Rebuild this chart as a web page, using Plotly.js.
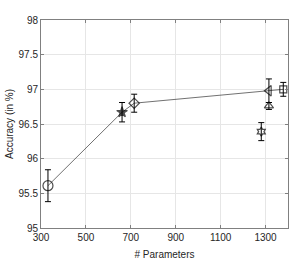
<!DOCTYPE html>
<html><head><meta charset="utf-8">
<script src="https://cdn.plot.ly/plotly-3.0.1.min.js"></script>
<style>body{margin:0;background:#fff}#c{width:299px;height:260px}</style>
</head><body><div id="c"></div>
<script>
// connected series
const lineX = [331, 661, 715, 1315, 1379];
const lineY = [95.61, 96.67, 96.80, 96.98, 97.00];
const lineErr = [0.23, 0.14, 0.13, 0.17, 0.10];
const lineSymbols = ['circle-open', 'star', 'diamond-open', 'triangle-left-open', 'square-open'];
const lineSizes = [10, 8, 8, 9, 7];
// standalone points
const soloX = [1315, 1281];
const soloY = [96.76, 96.39];
const soloErr = [0.05, 0.13];
const soloSymbols = ['triangle-up-open', 'hexagram-open'];
const soloSizes = [8, 7];
const xTicks = [300, 500, 700, 900, 1100, 1300];
const yTicks = [95, 95.5, 96, 96.5, 97, 97.5, 98];

const errStyle = {type: 'data', visible: true, color: '#000', thickness: 1, width: 3};
const traces = [
  {x: lineX, y: lineY, mode: 'lines', line: {color: '#333', width: 0.7}, hoverinfo: 'skip'},
  {x: lineX, y: lineY, mode: 'markers',
   error_y: Object.assign({array: lineErr}, errStyle),
   marker: {symbol: lineSymbols, size: lineSizes, color: '#000', line: {color: '#000', width: 1.2}}},
  {x: soloX, y: soloY, mode: 'markers',
   error_y: Object.assign({array: soloErr}, errStyle),
   marker: {symbol: soloSymbols, size: soloSizes, color: '#000', line: {color: '#000', width: 1.2}}}
];
const axFont = {family: 'Liberation Sans, Arial, sans-serif', size: 10, color: '#262626'};
const layout = {
  width: 299, height: 260, showlegend: false,
  margin: {l: 41, r: 11, t: 20, b: 32},
  paper_bgcolor: '#fff', plot_bgcolor: '#fff',
  xaxis: {range: [300, 1400], tickvals: xTicks, ticktext: xTicks.map(String),
    showgrid: true, gridcolor: '#e6e6e6', zeroline: false,
    showline: true, linecolor: '#808080', linewidth: 1, mirror: 'ticks',
    ticks: 'inside', ticklen: 3, tickcolor: '#808080', tickfont: axFont,
    title: {text: '# Parameters', font: axFont, standoff: 10}},
  yaxis: {range: [95, 98], tickvals: yTicks, ticktext: yTicks.map(String),
    showgrid: true, gridcolor: '#e6e6e6', zeroline: false,
    showline: true, linecolor: '#808080', linewidth: 1, mirror: 'ticks',
    ticks: 'inside', ticklen: 3, tickcolor: '#808080', tickfont: axFont,
    title: {text: 'Accuracy (in %)', font: axFont, standoff: 3}}
};
Plotly.newPlot('c', traces, layout, {displayModeBar: false, staticPlot: true});
</script></body></html>
